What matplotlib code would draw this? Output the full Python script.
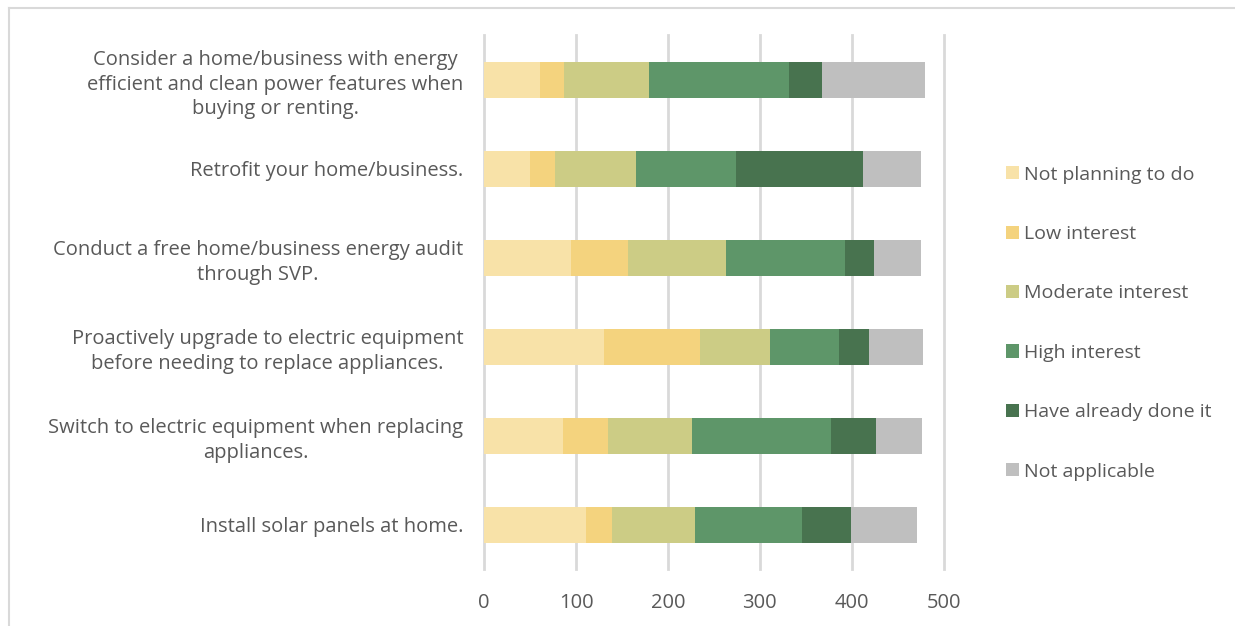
import matplotlib
matplotlib.use("Agg")
import matplotlib.pyplot as plt
from matplotlib.lines import Line2D
import numpy as np

plt.rcParams['font.family'] = ['Open Sans', 'DejaVu Sans']

# actions, top to bottom as in the chart
actions = [
    "Consider a home/business with energy\nefficient and clean power features when\nbuying or renting.",
    "Retrofit your home/business.",
    "Conduct a free home/business energy audit\nthrough SVP.",
    "Proactively upgrade to electric equipment\nbefore needing to replace appliances.",
    "Switch to electric equipment when replacing\nappliances.",
    "Install solar panels at home.",
]
series_names = ["Not planning to do", "Low interest", "Moderate interest",
                "High interest", "Have already done it", "Not applicable"]
not_planning = [61, 50, 95, 131, 86, 111]
low_interest = [26, 27, 62, 104, 49, 28]
moderate = [92, 88, 106, 76, 91, 91]
high = [153, 109, 130, 75, 152, 116]
already_done = [36, 138, 31, 33, 49, 53]
not_applicable = [112, 63, 52, 59, 50, 72]
colors = ["#F8E2A8", "#F4D37E", "#CCCC85", "#5E9669", "#48734F", "#BFBFBF"]
xticks = [0, 100, 200, 300, 400, 500]

series = [not_planning, low_interest, moderate, high, already_done, not_applicable]

fig = plt.figure(figsize=(12.35, 6.26), dpi=100)
ax = fig.add_axes([0.392, 0.0903, 0.372, 0.8530])

ypos = np.arange(len(actions))[::-1]
left = np.zeros(len(actions))
for name, vals, c in zip(series_names, series, colors):
    ax.barh(ypos, vals, left=left, height=0.4, color=c, label=name, zorder=3)
    left += np.array(vals)

ax.set_xlim(0, 500)
ax.set_ylim(-0.5, 5.5)
ax.set_xticks(xticks)
ax.set_yticks(ypos)
ax.set_yticklabels(actions, ha="right", multialignment="center", linespacing=1.3)
ax.tick_params(axis="y", length=0, pad=15, labelsize=14.5, labelcolor="#595959")
ax.tick_params(axis="x", length=0, pad=17, labelsize=14.5, labelcolor="#595959")
ax.grid(axis="x", color="#D9D9D9", linewidth=2, zorder=0)
for gl in ax.get_xgridlines():
    gl.set_clip_on(False)
for s in ax.spines.values():
    s.set_visible(False)

leg = ax.legend(loc="upper left", bbox_to_anchor=(1.118, 0.771), frameon=False,
                fontsize=14, labelspacing=2.13, handlelength=0.67, handleheight=0.67,
                handletextpad=0.3, borderaxespad=0)
for t in leg.get_texts():
    t.set_color("#595959")

# light frame around the chart area (right/bottom cropped off)
fig.add_artist(Line2D([8.5 / 1235, 8.5 / 1235], [0, 1 - 7.5 / 626], transform=fig.transFigure,
                      color="#D9D9D9", linewidth=1.5))
fig.add_artist(Line2D([8.5 / 1235, 1], [1 - 7.5 / 626, 1 - 7.5 / 626], transform=fig.transFigure,
                      color="#D9D9D9", linewidth=1.5))

fig.savefig("out.png", dpi=100)
